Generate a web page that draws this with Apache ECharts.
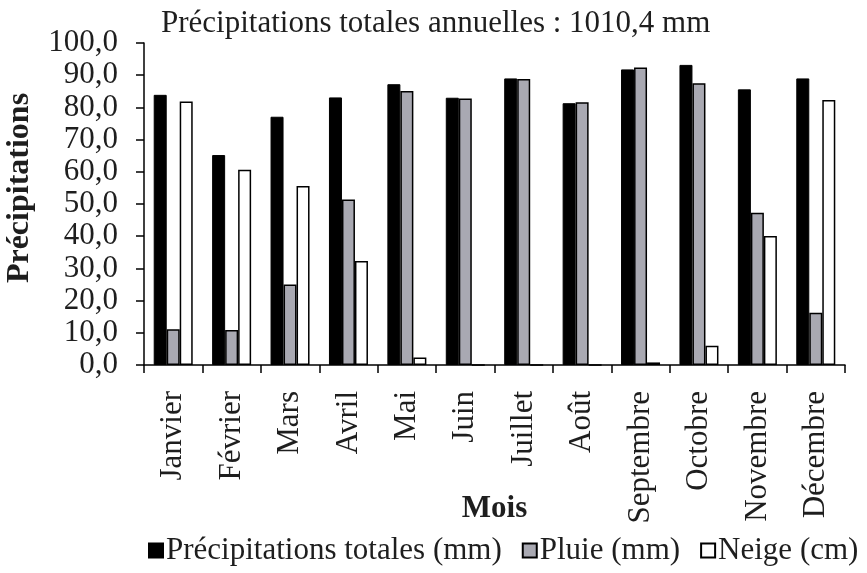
<!DOCTYPE html>
<html>
<head>
<meta charset="utf-8">
<script src="https://cdn.jsdelivr.net/npm/echarts@6/dist/echarts.min.js"></script>
<style>
  html, body { margin: 0; padding: 0; background: #fff; }
  #chart { width: 867px; height: 573px; }
</style>
</head>
<body>
<div id="chart"></div>
<script>
// Monthly precipitation data
const months = ['Janvier', 'Février', 'Mars', 'Avril', 'Mai', 'Juin',
                'Juillet', 'Août', 'Septembre', 'Octobre', 'Novembre', 'Décembre'];
const totalPrecip = [83.9, 65.2, 77.1, 83.1, 87.2, 83.0, 89.0, 81.3, 91.8, 93.2, 85.6, 89.0];
const rain        = [11.1, 10.9, 25.0, 51.4, 85.1, 82.8, 88.8, 81.6, 92.4, 87.5, 47.3, 16.2];
const snow        = [81.8, 60.6, 55.6, 32.3, 2.3, 0, 0, 0, 0.8, 6.0, 40.1, 82.3];
const seriesNames = ['Précipitations totales (mm)', 'Pluie (mm)', 'Neige (cm)'];
const titleText = 'Précipitations totales annuelles : 1010,4 mm';

const FONT = '"Liberation Serif", "DejaVu Serif", serif';
const INK = '#1e1e1e';

const chart = echarts.init(document.getElementById('chart'), null, { renderer: 'canvas' });

const barBase = { type: 'bar', barWidth: 13, barGap: '0%', barCategoryGap: '33%' };

chart.setOption({
  animation: false,
  backgroundColor: '#ffffff',
  textStyle: { fontFamily: FONT, color: INK },
  title: {
    text: titleText,
    left: 156,
    top: 3,
    textStyle: { fontFamily: FONT, fontWeight: 'normal', fontSize: 31, color: INK }
  },
  grid: { left: 144, right: 22, top: 43, bottom: 208, containLabel: false, outerBoundsMode: 'none' },
  legend: {
    bottom: 2,
    left: 143,
    itemWidth: 14,
    itemHeight: 14,
    itemGap: 20,
    icon: 'rect',
    textStyle: { fontFamily: FONT, fontSize: 31, color: INK, padding: [0, 0, 0, -2] },
    data: seriesNames
  },
  xAxis: {
    type: 'category',
    data: months,
    name: 'Mois',
    nameLocation: 'middle',
    nameGap: 128,
    nameMoveOverlap: false,
    nameTextStyle: { fontFamily: FONT, fontWeight: 'bold', fontSize: 31, color: INK },
    axisLine: { lineStyle: { color: '#000', width: 1.5 } },
    axisTick: { show: true, alignWithLabel: false, length: 8, lineStyle: { color: '#000', width: 1.5 } },
    axisLabel: { rotate: 90, fontFamily: FONT, fontSize: 31, color: INK, margin: 26, interval: 0 }
  },
  yAxis: {
    type: 'value',
    min: 0,
    max: 100,
    interval: 10,
    name: 'Précipitations',
    nameLocation: 'middle',
    nameRotate: 90,
    nameGap: 108,
    nameMoveOverlap: false,
    nameTextStyle: { fontFamily: FONT, fontWeight: 'bold', fontSize: 32, color: INK, padding: [0, 0, 0, 32] },
    axisLine: { show: true, lineStyle: { color: '#000', width: 1.5 } },
    axisTick: { show: true, length: 8, lineStyle: { color: '#000', width: 1.5 } },
    splitLine: { show: false },
    axisLabel: {
      fontFamily: FONT, fontSize: 31, color: INK, margin: 26,
      formatter: v => v.toFixed(1).replace('.', ',')
    }
  },
  series: [
    Object.assign({}, barBase, {
      name: seriesNames[0],
      data: totalPrecip,
      itemStyle: { color: '#000000', borderColor: '#000000', borderWidth: 1 }
    }),
    Object.assign({}, barBase, {
      name: seriesNames[1],
      data: rain,
      itemStyle: { color: '#a9a9b2', borderColor: '#000000', borderWidth: 1.5 }
    }),
    Object.assign({}, barBase, {
      name: seriesNames[2],
      data: snow,
      itemStyle: { color: '#ffffff', borderColor: '#000000', borderWidth: 1.5 }
    })
  ]
});
</script>
</body>
</html>
